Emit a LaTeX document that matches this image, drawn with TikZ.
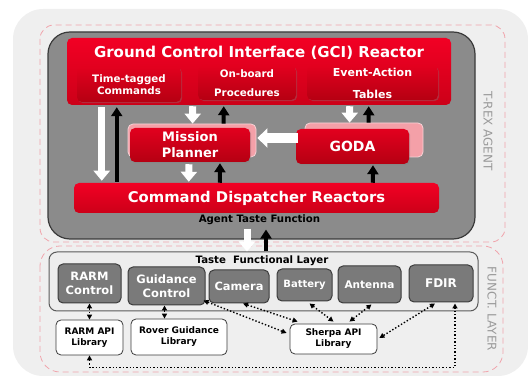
\documentclass[tikz,border=0pt]{standalone}
\usepackage{fontspec}
\setmainfont{DejaVu Sans}
\usetikzlibrary{arrows.meta, calc, shadows}

\definecolor{gciTop}{HTML}{F20024}
\definecolor{gciBot}{HTML}{CC0018}
\definecolor{subTop}{HTML}{E2001E}
\definecolor{subBot}{HTML}{B50012}
\definecolor{backFill}{HTML}{F4A0A8}
\definecolor{backEdge}{HTML}{F8D2D6}
\definecolor{agentGray}{HTML}{8B8B8B}
\definecolor{agentEdge}{HTML}{3A3A3A}
\definecolor{modGray}{HTML}{7A7A7A}
\definecolor{modEdge}{HTML}{3C3C3C}
\definecolor{tasteFill}{HTML}{EDEDED}
\definecolor{tasteEdge}{HTML}{5A5A5A}
\definecolor{paleBg}{HTML}{EFEFEF}
\definecolor{dashPink}{HTML}{F0A4AC}
\definecolor{labelGray}{HTML}{9A9A9A}

\newcommand{\fsz}[2]{\fontsize{#1}{#2}\selectfont\bfseries}

\begin{document}
\begin{tikzpicture}[x=1pt, y=-1pt, line width=0.5pt,
    redbox/.style={draw=none, rounded corners=5pt, top color=gciTop, bottom color=gciBot,
      text=white, inner sep=0pt, align=center},
    subbox/.style={redbox, top color=subTop, bottom color=subBot,
      drop shadow={shadow xshift=1.2pt, shadow yshift=-1.2pt, opacity=0.35}},
    backbox/.style={draw=backEdge, line width=0.8pt, fill=backFill, rounded corners=5pt, inner sep=0pt},
    modbox/.style={draw=modEdge, line width=1pt, fill=modGray, rounded corners=5pt,
      text=white, inner sep=0pt, align=center},
    libbox/.style={draw=modEdge, line width=0.8pt, fill=white, rounded corners=5pt,
      inner sep=0pt, align=center, font=\fsz{9}{11}},
    whitearrow/.style={draw=white, line width=7pt, -{Triangle[width=16pt,length=10pt]}},
    blackarrow/.style={draw=black, line width=4pt, -{Triangle[width=11pt,length=9pt]}},
    dotarrow/.style={dotted, line width=1.4pt,
      {Triangle[width=5pt,length=5pt]}-{Triangle[width=5pt,length=5pt]}},
    framedash/.style={draw=dashPink, line width=0.8pt, dash pattern=on 6pt off 4pt}]

  \useasboundingbox (0,0) rectangle (528,379);

  % frames
  \fill[paleBg, rounded corners=30pt] (13,9) rectangle (528,376);
  \draw[framedash, rounded corners=14pt] (40,25) rectangle (505,242);
  \draw[framedash, rounded corners=20pt] (40,246) rectangle (503,372);
  \draw[fill=agentGray, draw=agentEdge, line width=1.2pt, rounded corners=22pt] (48,32) rectangle (475,239);

  \node[rotate=-90, text=labelGray, font=\fontsize{12}{14}\selectfont] (trexlabel) at (488,131) {T-REX AGENT};
  \node[rotate=-90, text=labelGray, font=\fontsize{12}{14}\selectfont] (functlabel) at (492,309) {FUNCT. LAYER};

  % GCI reactor
  \node[redbox, minimum width=384pt, minimum height=67pt] (gci) at (259,71.5) {};
  \node[text=white, font=\fsz{15}{18}] (gcititle) at (259,53) {Ground Control Interface (GCI) Reactor};
  \node[subbox, minimum width=104pt, minimum height=35pt, font=\fsz{10.3}{12.5}] (ttc) at (129,84.5) {Time-tagged\\Commands};
  \node[subbox, minimum width=98pt, minimum height=34pt, font=\fsz{10.3}{19}] (obp) at (247,83) {On-board\\Procedures};
  \node[subbox, minimum width=131pt, minimum height=34pt, font=\fsz{11}{22}] (eat) at (372.5,83) {Event-Action\\Tables};

  % planner and goda
  \node[backbox, minimum width=128pt, minimum height=33pt] (mpback) at (192,140.5) {};
  \node[subbox, minimum width=120pt, minimum height=34pt, font=\fsz{13}{16}] (mp) at (190,145) {Mission\\Planner};
  \node[backbox, minimum width=118pt, minimum height=34pt] (godaback) at (364,140) {};
  \node[subbox, minimum width=113pt, minimum height=35pt, font=\fsz{14}{16}] (goda) at (352.5,146.5) {GODA};

  \node[redbox, minimum width=365pt, minimum height=30pt, font=\fsz{14.8}{18}] (disp) at (256.5,198) {Command Dispatcher Reactors};
  \node[font=\fsz{10.2}{12}] (atf) at (259.5,220) {Agent Taste Function};

  % functional layer
  \node[draw=tasteEdge, fill=tasteFill, line width=1pt, rounded corners=8pt,
    minimum width=429pt, minimum height=59pt] (taste) at (263.5,281.5) {};
  \node[font=\fsz{10.2}{12}] (tastetitle) at (262,261) {Taste\ \ Functional Layer};

  \node[modbox, minimum width=63pt, minimum height=39pt, font=\fsz{11.5}{14}] (rarmc) at (89.5,283.5) {RARM\\Control};
  \node[modbox, minimum width=77pt, minimum height=38pt, font=\fsz{11.5}{14}] (guidc) at (166.5,286) {Guidance\\Control};
  \node[modbox, minimum width=60pt, minimum height=33pt, font=\fsz{11.4}{14}] (cam) at (239,286.5) {Camera};
  \node[modbox, minimum width=55pt, minimum height=32pt, font=\fsz{10}{12}] (bat) at (304.5,285) {Battery};
  \node[modbox, minimum width=63pt, minimum height=37pt, font=\fsz{10.5}{12}] (ant) at (369.5,284.5) {Antenna};
  \node[modbox, minimum width=64pt, minimum height=37pt, font=\fsz{12}{14}] (fdir) at (441,283.5) {FDIR};

  \node[libbox, minimum width=67pt, minimum height=35pt] (rarmlib) at (89.5,337.5) {RARM API\\Library};
  \node[libbox, minimum width=96pt, minimum height=36pt] (rovlib) at (179,337) {Rover Guidance\\Library};
  \node[libbox, minimum width=87pt, minimum height=30pt] (sherpa) at (333.5,339) {Sherpa API\\Library};

  % agent arrows
  \draw[whitearrow] ($(gci.south west)+(35,2)$) -- ($(disp.north west)+(28,-2)$);
  \draw[blackarrow] ($(disp.north west)+(43,-1)$) -- ($(gci.south west)+(50,2)$);
  \draw[whitearrow] ($(gci.south west)+(126,1)$) -- ($(mpback.north west)+(65,0)$);
  \draw[blackarrow] ($(mpback.north west)+(96,0)$) -- ($(gci.south west)+(157,1)$);
  \draw[whitearrow] ($(gci.south west)+(283,1)$) -- ($(godaback.north west)+(45,0)$);
  \draw[blackarrow] ($(godaback.north west)+(64,0)$) -- ($(gci.south west)+(302,1)$);
  \draw[whitearrow, line width=10pt, -{Triangle[width=19pt,length=10pt]}] ($(goda.west)+(2,-8.5)$) -- ($(mpback.east)+(1,-2.5)$);
  \draw[whitearrow] ($(mp.south)+(-1,2)$) -- ($(disp.north west)+(115,-1)$);
  \draw[blackarrow] ($(disp.north west)+(146,0)$) -- ($(mp.south)+(30,1)$);
  \draw[blackarrow] ($(disp.north west)+(299,0)$) -- ($(goda.south)+(20.5,1)$);
  \draw[whitearrow] ($(atf.south)+(-12.5,0)$) -- ($(taste.north)+(-16.5,0)$);
  \draw[blackarrow] ($(taste.north)+(2.5,0)$) -- ($(atf.south)+(6.5,1)$);

  % library links
  \draw[dotarrow] (rarmc.south) -- (rarmlib.north);
  \draw[dotarrow] ($(guidc.south)+(-2,0)$) -- ($(guidc.south |- rovlib.north)+(-2,0)$);
  \draw[dotarrow] ($(guidc.south east)+(-2,-5)$) -- ($(sherpa.west)+(-3,-6)$);
  \draw[dotarrow] ($(cam.south)+(4,0)$) -- ($(sherpa.north west)+(8,-2)$);
  \draw[dotarrow] ($(bat.south)+(5,2)$) -- ($(sherpa.north)+(0,-2)$);
  \draw[dotarrow] ($(ant.south)+(2,1)$) -- ($(sherpa.north)+(16,-2)$);
  \draw[dotarrow] ($(fdir.south)+(-6,1)$) -- ($(sherpa.east)+(2,-1)$);
  \draw[dotarrow] (rarmlib.south) |- ($(fdir.south)+(14,65)$) -- ($(fdir.south)+(14,1)$);
\end{tikzpicture}
\end{document}
